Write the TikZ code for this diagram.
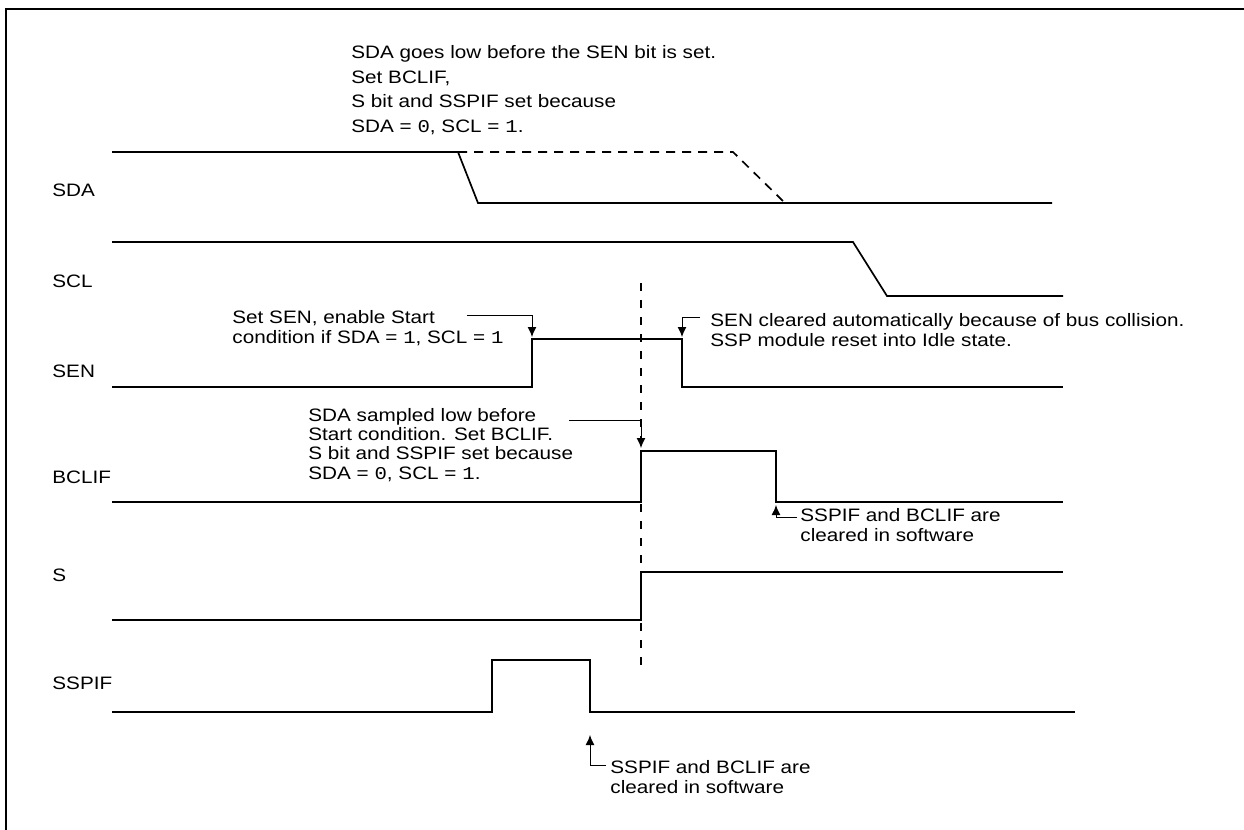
\documentclass[tikz,border=0pt]{standalone}
\usepackage{fontspec}
\setmainfont{Liberation Sans}[FakeStretch=1.15]
\newfontfamily\bitfont{Liberation Mono}[FakeStretch=1.15]
\usetikzlibrary{arrows.meta, calc}
\newcommand{\bv}[1]{{\bitfont #1}}

\tikzset{
  sig/.style={line width=0.85pt},
  sigdash/.style={line width=0.85pt, dash pattern=on 4.5pt off 3.5pt},
  sample/.style={line width=0.8pt, dash pattern=on 4pt off 4.5pt},
  lbl/.style={anchor=west, inner sep=0pt, font=\fontsize{9}{10}\selectfont},
  note/.style={anchor=north west, align=left, inner sep=0pt, font=\fontsize{9}{10}\selectfont},
  callout/.style={line width=0.5pt, -{Latex[length=5pt, width=4.4pt]}}
}

\begin{document}
\begin{tikzpicture}[x=0.5pt, y=-0.5pt]
\useasboundingbox (0,0) rectangle (1244,830);
% Frame
\draw[line width=1.4pt] (6,830) -- (6,9) -- (1244,9);

% Signal names
\foreach \name/\y in {SDA/190, SCL/281, SEN/371, BCLIF/477, S/575, SSPIF/683} {
    \node[lbl] (l\name) at (52,\y) {\name};
}

% Waveforms
\draw[sig] (112,152) -- (458,152) -- (478,203) -- (1052,203);
\draw[sigdash] (458,152) -- (733,152) -- (785,203);
\draw[sig] (112,242) -- (853,242) -- (887,296) -- (1063,296);
\draw[sig] (112,387) -- (532,387) -- (532,339) -- (682,339) -- (682,387) -- (1063,387);
\draw[sig] (112,502) -- (641,502) -- (641,451) -- (776,451) -- (776,502) -- (1063,502);
\draw[sig] (112,620) -- (641,620) -- (641,572) -- (1063,572);
\draw[sig] (112,712) -- (492,712) -- (492,660) -- (590,660) -- (590,712) -- (1075,712);

% Sample point
\coordinate (samptop) at (641,283);
\coordinate (sampbot) at (641,668);
\draw[sample] (samptop) -- (sampbot);

% Arrow targets
\coordinate (senrise) at (532,337);
\coordinate (senfall) at (682,337);
\coordinate (bclrise) at (641,448);
\coordinate (bclfall) at (776,505);
\coordinate (sspfall) at (590,735);

% Notes
\node[note, font=\fontsize{9}{12.3}\selectfont] (sdanote) at (351,45)
    {SDA goes low before the SEN bit is set.\\Set BCLIF,\\S bit and SSPIF set because\\SDA = \bv{0}, SCL = \bv{1}.};
\node[note] (sennote) at (232,310) {Set SEN, enable Start\\condition if SDA = \bv{1}, SCL = \bv{1}};
\node[note] (clrnote) at (710,313) {SEN cleared automatically because of bus collision.\\SSP module reset into Idle state.};
\node[note, font=\fontsize{9}{9.6}\selectfont] (bclnote) at (308,408)
    {SDA sampled low before\\Start condition. Set BCLIF.\\S bit and SSPIF set because\\SDA = \bv{0}, SCL = \bv{1}.};
\node[note] (swnote) at (800,508) {SSPIF and BCLIF are\\cleared in software};
\node[note] (sspnote) at (610,760) {SSPIF and BCLIF are\\cleared in software};

% Callouts
\draw[callout] ($(sennote.north west)+(235,5)$) -| (senrise);
\draw[callout] ($(clrnote.north west)+(-10,4)$) -| (senfall);
\draw[callout] ($(bclnote.north west)+(261,12)$) -| (bclrise);
\draw[callout] ($(swnote.north west)+(-3,9)$) -| (bclfall);
\draw[callout] ($(sspnote.north west)+(-4,5)$) -| (sspfall);
\end{tikzpicture}
\end{document}
